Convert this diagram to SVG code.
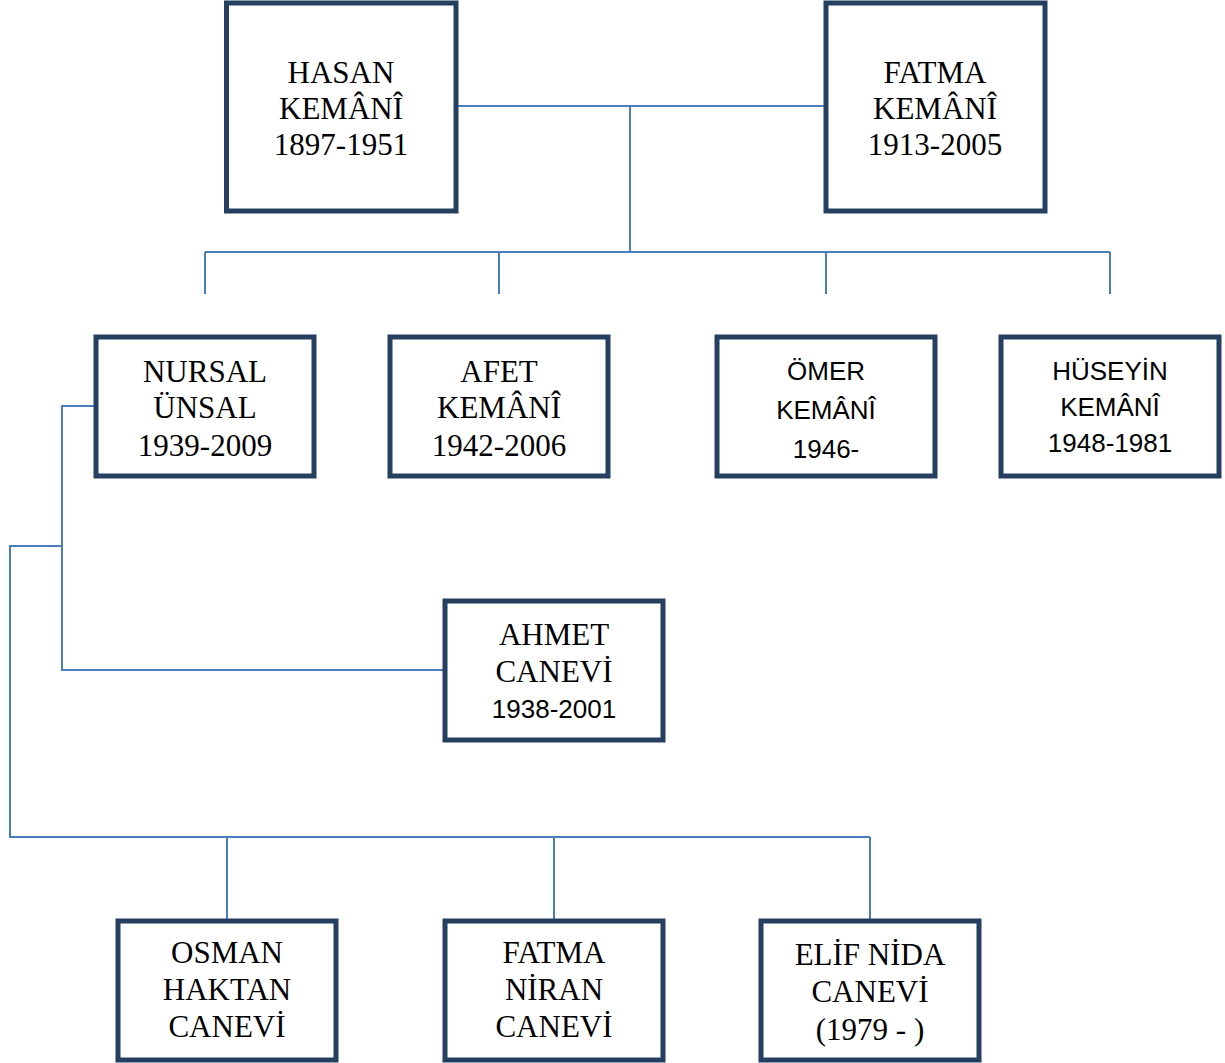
<svg xmlns="http://www.w3.org/2000/svg" width="1225" height="1063" viewBox="0 0 1225 1063">
<style>
.box{fill:#fff;stroke:#243F60;stroke-width:5}
.c{fill:none;stroke:#4A7EBB;stroke-width:2}
.s{font-family:"Liberation Serif","Times New Roman",serif;font-size:31px;fill:#000;text-anchor:middle}
.n{font-family:"Liberation Sans",Arial,sans-serif;font-size:26px;fill:#000;text-anchor:middle}
</style>
<rect width="1225" height="1063" fill="#fff"/>
<g id="connectors">
<path class="c" d="M456 106H826M630 106V252M205 252H1110M205 252V294M499 252V294M826 252V294M1110 252V294"/>
<path class="c" d="M95 406H62V670H444M62 546H10V837H870M227 837V920M554 837V920M870 837V920"/>
</g>
<g id="hasan"><rect class="box" x="226.5" y="3" width="229.5" height="208"/>
<text class="s" x="341" y="83">HASAN</text><text class="s" x="341" y="119">KEMÂNÎ</text><text class="s" x="341" y="155">1897-1951</text></g>
<g id="fatma"><rect class="box" x="826" y="3" width="219" height="208"/>
<text class="s" x="935" y="83">FATMA</text><text class="s" x="935" y="119">KEMÂNÎ</text><text class="s" x="935" y="155">1913-2005</text></g>
<g id="nursal"><rect class="box" x="96" y="337" width="218" height="139"/>
<text class="s" x="205" y="382">NURSAL</text><text class="s" x="205" y="418">ÜNSAL</text><text class="s" x="205" y="456">1939-2009</text></g>
<g id="afet"><rect class="box" x="390" y="337" width="218" height="139"/>
<text class="s" x="499" y="382">AFET</text><text class="s" x="499" y="418">KEMÂNÎ</text><text class="s" x="499" y="456">1942-2006</text></g>
<g id="omer"><rect class="box" x="717" y="337" width="218" height="139"/>
<text class="n" x="826" y="380">ÖMER</text><text class="n" x="826" y="419">KEMÂNÎ</text><text class="n" x="826" y="458">1946-</text></g>
<g id="huseyin"><rect class="box" x="1001" y="337" width="218" height="139"/>
<text class="n" x="1110" y="380">HÜSEYİN</text><text class="n" x="1110" y="416">KEMÂNÎ</text><text class="n" x="1110" y="452">1948-1981</text></g>
<g id="ahmet"><rect class="box" x="445" y="601" width="218" height="139"/>
<text class="s" x="554" y="645">AHMET</text><text class="s" x="554" y="682">CANEVİ</text><text class="n" x="554" y="718">1938-2001</text></g>
<g id="osman"><rect class="box" x="118" y="921" width="218" height="139"/>
<text class="s" x="227" y="963">OSMAN</text><text class="s" x="227" y="1000">HAKTAN</text><text class="s" x="227" y="1037">CANEVİ</text></g>
<g id="fatmaniran"><rect class="box" x="445" y="921" width="218" height="139"/>
<text class="s" x="554" y="963">FATMA</text><text class="s" x="554" y="1000">NİRAN</text><text class="s" x="554" y="1037">CANEVİ</text></g>
<g id="elif"><rect class="box" x="761" y="921" width="218" height="139"/>
<text class="s" x="870" y="965">ELİF NİDA</text><text class="s" x="870" y="1002">CANEVİ</text><text class="s" x="870" y="1040">(1979 - )</text></g>
</svg>
